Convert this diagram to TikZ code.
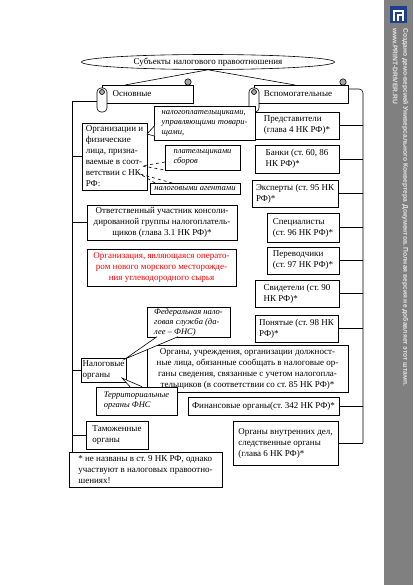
\documentclass[tikz,border=0pt]{standalone}
\usepackage{fontspec}
\setmainfont{Liberation Serif}
\newfontfamily\bandfont{Liberation Sans}
\usetikzlibrary{shapes.geometric}
\frenchspacing
\definecolor{bandgrey}{HTML}{808080}
\definecolor{bandtext}{HTML}{E6E6E6}
\definecolor{logoblue}{HTML}{1E3F8C}
\definecolor{rolled}{HTML}{A6A6A6}
\definecolor{alert}{HTML}{FF0000}
\tikzset{
  base/.style={draw=black, line width=0.6pt},
  wire/.style={draw=black, line width=0.6pt},
  box/.style={base, fill=white, inner sep=2pt, align=left, font=\fontsize{9}{11}\selectfont},
  boxc/.style={box, align=center},
  note/.style={box, font=\fontsize{8.5}{10}\selectfont\itshape},
  tail/.style={base, fill=white},
  dtail/.style={base, dashed},
  lab/.style={font=\fontsize{9}{11}\selectfont, inner sep=0pt},
  bandtxt/.style={text=bandtext, font=\bandfont\bfseries\fontsize{6.7}{10.5}\selectfont, align=left, inner sep=0pt},
}

\begin{document}
\begin{tikzpicture}[x=1pt, y=-1pt]
  \useasboundingbox (0,0) rectangle (413,585);
  \fill[white] (0,0) rectangle (413,585);

  % stamp band
  \fill[bandgrey] (384,0) rectangle (413,585);
  \fill[logoblue] (390,6) rectangle (407,23);
  \draw[white, line width=2pt] (394,21) -- (394,11) -- (403,11) -- (403,21);
  \draw[white, line width=1.4pt] (398,21) -- (398,15) -- (403,15);
  \node[bandtxt, rotate=-90, anchor=north west] (stamp) at (408.5,28)
    {Создано демо-версией Универсального Конвертера Документов. Полная версия не добавляет этот штамп.\\www.PRINT-DRIVER.RU};

  % title
  \node[base, ellipse, minimum width=253, minimum height=15, inner sep=0pt, lab] (subj) at (208,62)
    {Субъекты налогового правоотношения};
  \coordinate (lscroll) at (125,85);
  \coordinate (rscroll) at (295,85);
  \draw[wire] (lscroll) -- (subj.south) -- (rscroll);

  % trunks
  \coordinate (ltop) at (97,101);
  \coordinate (lbot) at (72,452);
  \coordinate (rtop) at (348,89);
  \coordinate (rbot) at (363,443);
  \draw[wire] (ltop) -| (lbot);
  \draw[wire, rounded corners=4] (rtop) -| (rbot);

  % scrolls
  \foreach \xa/\xb in {97/193,249/348}{
    \filldraw[base, fill=white] (\xa+5,85) rectangle (\xb,103);
    \filldraw[base, fill=rolled] (\xb-5,82) circle (3.2);
    \filldraw[base, fill=white, rounded corners=4] (\xa,88) rectangle (\xa+10,112);
    \filldraw[base, fill=rolled] (\xa+5,92) circle (2.5);
  }
  \node[lab] (osn) at (132,94) {Основные};
  \node[lab] (vsp) at (298,94) {Вспомогательные};

  % main participants
  \node[box, minimum width=65, minimum height=67] (org) at (114.5,156.5)
    {Организации и\\физические\\лица, призна-\\ваемые в соот-\\ветствии с НК\\РФ:};
  \node[boxc, minimum width=150, minimum height=35] (resp) at (162,222.5)
    {Ответственный участник консоли-\\дированной группы налогоплатель-\\щиков (глава 3.1 НК РФ)*};
  \node[boxc, text=alert, minimum width=149, minimum height=37] (oper) at (161.5,267.5)
    {Организация, являющаяся операто-\\ром нового морского месторожде-\\ния углеводородного сырья};
  \node[box, inner xsep=1.5pt, minimum width=43, minimum height=24] (nalorg) at (103.5,370)
    {Налоговые\\органы};
  \node[box, minimum width=62, minimum height=28] (tamozh) at (117,435)
    {Таможенные\\органы};
  \node[box, minimum width=153, minimum height=35] (footn) at (145.5,469.5)
    {* не названы в ст. 9 НК РФ, однако\\участвуют в налоговых правоотно-\\шениях!};
  \foreach \n in {org,resp,nalorg,tamozh}
    \draw[wire] (\n.west) -- (\n.west -| lbot);

  % auxiliary participants
  \node[box, minimum width=84, minimum height=27] (pred) at (297,125.5)
    {Представители\\(глава 4 НК РФ)*};
  \node[box, minimum width=84, minimum height=28] (bank) at (297,159)
    {Банки (ст. 60, 86\\НК РФ)*};
  \node[box, minimum width=86, minimum height=27] (exp) at (295,193.5)
    {Эксперты (ст. 95 НК\\РФ)*};
  \node[box, minimum width=72, minimum height=29] (spec) at (303,227.5)
    {Специалисты\\(ст. 96 НК РФ)*};
  \node[box, minimum width=72, minimum height=27] (perev) at (303,260.5)
    {Переводчики\\(ст. 97 НК РФ)*};
  \node[box, minimum width=84, minimum height=27] (svid) at (297,293.5)
    {Свидетели (ст. 90\\НК РФ)*};
  \node[box, minimum width=83, minimum height=27] (ponyat) at (296.5,328.5)
    {Понятые (ст. 98 НК\\РФ)*};
  \node[boxc, minimum width=201, minimum height=47] (organy) at (247.5,368.5)
    {Органы, учреждения, организации должност-\\ные лица, обязанные сообщать в налоговые ор-\\ганы сведения, связанные с учетом налогопла-\\тельщиков (в соответствии со ст. 85 НК РФ)*};
  \node[box, minimum width=151, minimum height=18, inner ysep=1pt] (fin) at (263.5,406)
    {Финансовые органы(ст. 342 НК РФ)*};
  \node[box, minimum width=105, minimum height=44] (ovd) at (285.5,443)
    {Органы внутренних дел,\\следственные органы\\(глава 6 НК РФ)*};
  \draw[wire] (rbot) -- (ovd.east);
  \foreach \n in {pred,bank,exp,spec,perev,svid,ponyat,fin}
    \draw[wire] (\n.east) -- (\n.east -| rbot);

  % callouts
  \node[note, minimum width=101, minimum height=34] (plat) at (204.5,123)
    {налогоплательщиками,\\управляющими товари-\\щами,};
  \node[note, minimum width=75, minimum height=25] (sbor) at (202.5,157.5)
    {плательщиками\\сборов};
  \node[note, minimum width=90, minimum height=11, inner ysep=0.5pt] (agent) at (195,188.5)
    {налоговыми агентами};
  \node[note, minimum width=83, minimum height=30, inner ysep=1pt] (fns) at (188.5,322)
    {Федеральная нало-\\говая служба (да-\\лее – ФНС)};
  \node[note, minimum width=81, minimum height=28] (terr) at (136.5,401)
    {Территориальные\\органы ФНС};

  \draw[tail] (154.3,126) -- (147,134) -- (154.3,136);
  \draw[dtail] (165,162) -- (142,166) -- (165,170);
  \draw[dtail] (155,183) -- (140,174) -- (172,183);
  \draw[tail] (157,336.7) -- (125,359) -- (178,336.7);
  \draw[tail] (130,386.7) -- (122,378) -- (142,386.7);
\end{tikzpicture}
\end{document}
